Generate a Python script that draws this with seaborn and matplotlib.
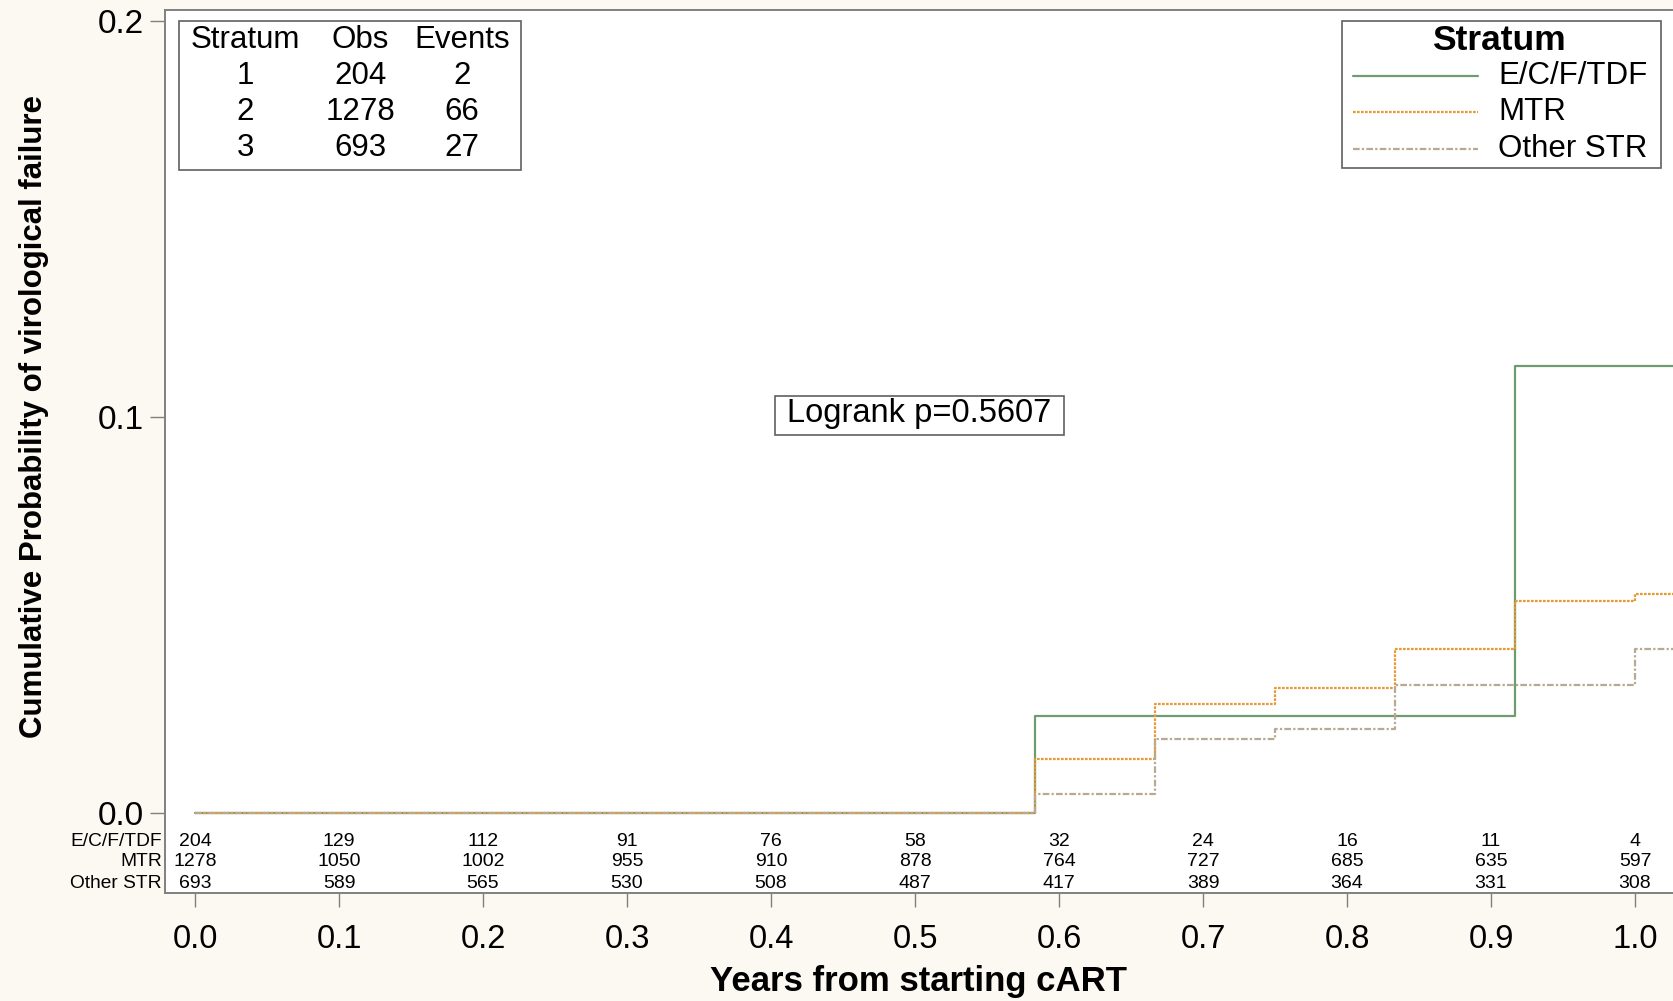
import matplotlib
matplotlib.use("Agg")
import matplotlib.pyplot as plt
from matplotlib.lines import Line2D
from matplotlib.patches import Rectangle
import seaborn as sns
import pandas as pd

# Kaplan-Meier cumulative failure estimates (step-post), by stratum
times = [0.0, 0.5833, 0.6667, 0.75, 0.8333, 0.9167, 1.0, 1.06]
ecf_tdf = [0.0, 0.0246, 0.0246, 0.0246, 0.0246, 0.1129, 0.1129, 0.1129]
mtr = [0.0, 0.0136, 0.0274, 0.0315, 0.0413, 0.0536, 0.0554, 0.0554]
other_str = [0.0, 0.0049, 0.0188, 0.0211, 0.0322, 0.0322, 0.0414, 0.0414]

strata = ["E/C/F/TDF", "MTR", "Other STR"]

# Numbers at risk
risk_times = [0.0, 0.1, 0.2, 0.3, 0.4, 0.5, 0.6, 0.7, 0.8, 0.9, 1.0]
risk_ecf = [204, 129, 112, 91, 76, 58, 32, 24, 16, 11, 4]
risk_mtr = [1278, 1050, 1002, 955, 910, 878, 764, 727, 685, 635, 597]
risk_other = [693, 589, 565, 530, 508, 487, 417, 389, 364, 331, 308]

# Summary table
tab_stratum = ["1", "2", "3"]
tab_obs = ["204", "1278", "693"]
tab_events = ["2", "66", "27"]

logrank_text = "Logrank p=0.5607"

sns.set_theme(style="white")
plt.rcParams["font.family"] = ["Liberation Sans", "DejaVu Sans"]
plt.rcParams["text.color"] = "black"
plt.rcParams["xtick.labelcolor"] = "black"
plt.rcParams["ytick.labelcolor"] = "black"

W, H = 1673, 1001
fig = plt.figure(figsize=(W / 100, H / 100), dpi=100, facecolor="#fcf9f2")
L, R, B, T = 165, 1673, 893, 10
ax = fig.add_axes([L / W, 1 - B / H, (R - L) / W, (B - T) / H])
ax.set_facecolor("white")

styles = [
    dict(color="#6f9b70", linestyle="-", linewidth=1.6),
    dict(color="#e69a35", linestyle=(0, (1.2, 0.6)), linewidth=1.6),
    dict(color="#b9a892", linestyle=(0, (3, 1, 1, 1)), linewidth=1.6),
]
series = [ecf_tdf, mtr, other_str]
for name, vals, st in zip(strata, series, styles):
    df = pd.DataFrame({"t": times, "p": vals})
    sns.lineplot(data=df, x="t", y="p", ax=ax, drawstyle="steps-post",
                 estimator=None, legend=False, **st)

x0_px, x1_px = 195, 1635   # pixel positions of x=0 and x=1
y0_px, y1_px = 813, 417    # pixel positions of y=0 and y=0.1
xs = 1.0 / (x1_px - x0_px)
ys = 0.1 / (y0_px - y1_px)
ax.set_xlim((L - x0_px) * xs, (R - x0_px) * xs)
ax.set_ylim((y0_px - B) * ys, (y0_px - T) * ys)

ax.set_xticks(risk_times)
ax.set_xticklabels([f"{v:.1f}" for v in risk_times])
ax.set_yticks([0.0, 0.1, 0.2])
ax.set_yticklabels(["0.0", "0.1", "0.2"])
ax.set_xlabel("")
ax.set_ylabel("")

spine_c = "#808080"
for s in ["left", "bottom", "top"]:
    ax.spines[s].set_visible(True)
    ax.spines[s].set_color(spine_c)
    ax.spines[s].set_linewidth(1.4)
ax.spines["right"].set_visible(False)
ax.tick_params(axis="x", which="major", direction="out", length=10, width=1,
               color=spine_c, labelsize=23.5, pad=12, bottom=True)
ax.tick_params(axis="y", which="major", direction="out", length=10.5, width=1,
               color=spine_c, labelsize=24, pad=5, left=True)

# Numbers at risk inside the plot area, below the zero line
risk_rows = [risk_ecf, risk_mtr, risk_other]
row_px = [842, 862, 883]
ytr = ax.get_yaxis_transform()
for name, row, py in zip(strata, risk_rows, row_px):
    yv = (y0_px - py) * ys
    for t, n in zip(risk_times, row):
        ax.text(t, yv, str(n), ha="center", va="center", fontsize=14, color="black")
    ax.text(-0.002, yv, name, transform=ytr, ha="right", va="center",
            fontsize=13.8, color="black", clip_on=False)

def axf(px, py):
    return ((px - L) / (R - L), (B - py) / (B - T))

def framed_box(px0, py0, px1, py1):
    x0, y0 = axf(px0, py1)
    x1, y1 = axf(px1, py0)
    ax.add_patch(Rectangle((x0, y0), x1 - x0, y1 - y0, transform=ax.transAxes,
                           facecolor="white", edgecolor="#606060", linewidth=1.2,
                           zorder=5))

# Stratum / Obs / Events table
framed_box(179, 21, 521, 170)
col_px = [245, 360, 462]
rows = [["Stratum", "Obs", "Events"]] + [list(r) for r in zip(tab_stratum, tab_obs, tab_events)]
for py, row in zip([39.5, 76, 112, 148], rows):
    for px, txt in zip(col_px, row):
        ax.text(*axf(px, py), txt, transform=ax.transAxes, ha="center", va="center",
                fontsize=22.5, zorder=6)

# Legend
framed_box(1342, 21, 1661, 168)
ax.text(*axf(1499, 41), "Stratum", transform=ax.transAxes, ha="center", va="center",
        fontsize=25.5, fontweight="bold", zorder=6)
for name, st, py in zip(strata, styles, [76, 112, 149]):
    xa, ya = axf(1353, py)
    xb, _ = axf(1478, py)
    ax.add_line(Line2D([xa, xb], [ya, ya], transform=ax.transAxes, zorder=6, **st))
    ax.text(*axf(1498, py), name, transform=ax.transAxes, ha="left", va="center",
            fontsize=22.5, zorder=6)

# Log-rank test annotation
framed_box(775, 396, 1064, 435)
ax.text(*axf(919.5, 414), logrank_text, transform=ax.transAxes, ha="center",
        va="center", fontsize=23.5, zorder=6)

fig.text(918 / W, 1 - 982 / H, "Years from starting cART", ha="center", va="center",
         fontsize=25, fontweight="bold")
fig.text(34 / W, 1 - 416 / H, "Cumulative Probability of virological failure",
         ha="center", va="center", rotation=90, fontsize=22.5, fontweight="bold")

fig.savefig("out.png", dpi=100, facecolor=fig.get_facecolor())
